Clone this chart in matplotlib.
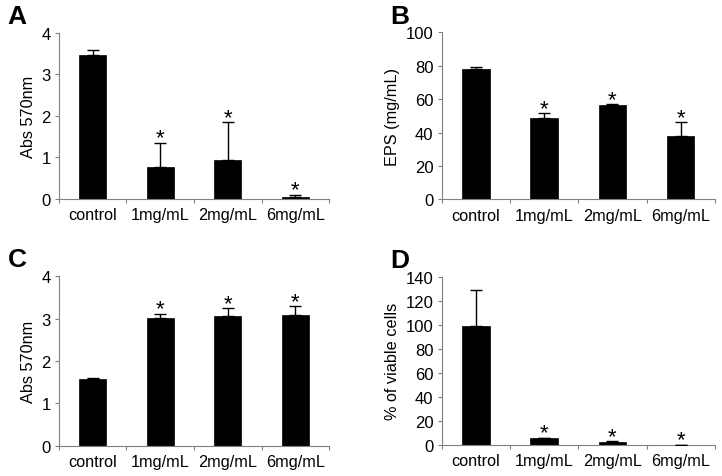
import numpy as np
import matplotlib.pyplot as plt

plt.rcParams['font.family'] = ['Liberation Sans', 'DejaVu Sans']

groups = ['control', '1mg/mL', '2mg/mL', '6mg/mL']

# panel A - biofilm, Abs 570nm
a_vals = [3.46, 0.76, 0.94, 0.05]
a_err = [0.13, 0.59, 0.90, 0.05]
# panel B - EPS
b_vals = [78.0, 48.5, 56.3, 38.2]
b_err = [1.2, 3.0, 0.7, 8.0]
# panel C - Abs 570nm
c_vals = [1.57, 3.02, 3.07, 3.09]
c_err = [0.04, 0.09, 0.17, 0.20]
# panel D - viable cells
d_vals = [99.5, 5.3, 2.5, 0.0]
d_err = [29.5, 0.6, 0.5, 0.0]

signif = [False, True, True, True]

panels = [
    ('A', a_vals, a_err, 'Abs 570nm', 4, 1, [0.0817, 0.5807, 0.374, 0.349]),
    ('B', b_vals, b_err, 'EPS (mg/mL)', 100, 20, [0.6118, 0.580, 0.3782, 0.350]),
    ('C', c_vals, c_err, 'Abs 570nm', 4, 1, [0.0817, 0.0635, 0.374, 0.3552]),
    ('D', d_vals, d_err, '% of viable cells', 140, 20, [0.6118, 0.0656, 0.3782, 0.3516]),
]

fig = plt.figure(figsize=(7.22, 4.77), dpi=100)

for letter, vals, err, ylab, ymax, step, pos in panels:
    ax = fig.add_axes(pos)
    x = np.arange(len(groups))
    ax.bar(x, vals, width=0.4, color='black', edgecolor='black', linewidth=0.5, zorder=2)
    ax.errorbar(x, vals, yerr=[np.zeros(len(err)), err], fmt='none', ecolor='black',
                elinewidth=1, capsize=4, capthick=1, zorder=3)
    for xi, v, e, s in zip(x, vals, err, signif):
        if s:
            ax.annotate('*', (xi, v + e), xytext=(0, -0.5), textcoords='offset points',
                        ha='center', va='baseline', fontsize=16)
    ax.set_xlim(-0.5, len(groups) - 0.5)
    ax.set_ylim(0, ymax)
    ax.set_yticks(np.arange(0, ymax + step / 2, step))
    ax.set_xticks(np.arange(-0.5, len(groups)), minor=False)
    ax.set_xticklabels([])
    ax.set_xticks(x, minor=True)
    ax.set_xticklabels(groups, minor=True, fontsize=11.7)
    ax.tick_params(axis='x', which='minor', length=0, pad=6)
    ax.tick_params(axis='x', which='major', length=3, color='#808080', width=0.8)
    ax.tick_params(axis='y', length=3, color='#808080', width=0.8, labelsize=12, pad=3)
    for side in ['top', 'right']:
        ax.spines[side].set_visible(False)
    for side in ['left', 'bottom']:
        ax.spines[side].set_color('#808080')
        ax.spines[side].set_linewidth(0.8)
    ax.set_ylabel(ylab, fontsize=11.7)
    ax.text(-0.19, 1.1, letter, transform=ax.transAxes, fontsize=19, fontweight='bold',
            ha='left', va='center')

fig.savefig('out.png', dpi=100)
